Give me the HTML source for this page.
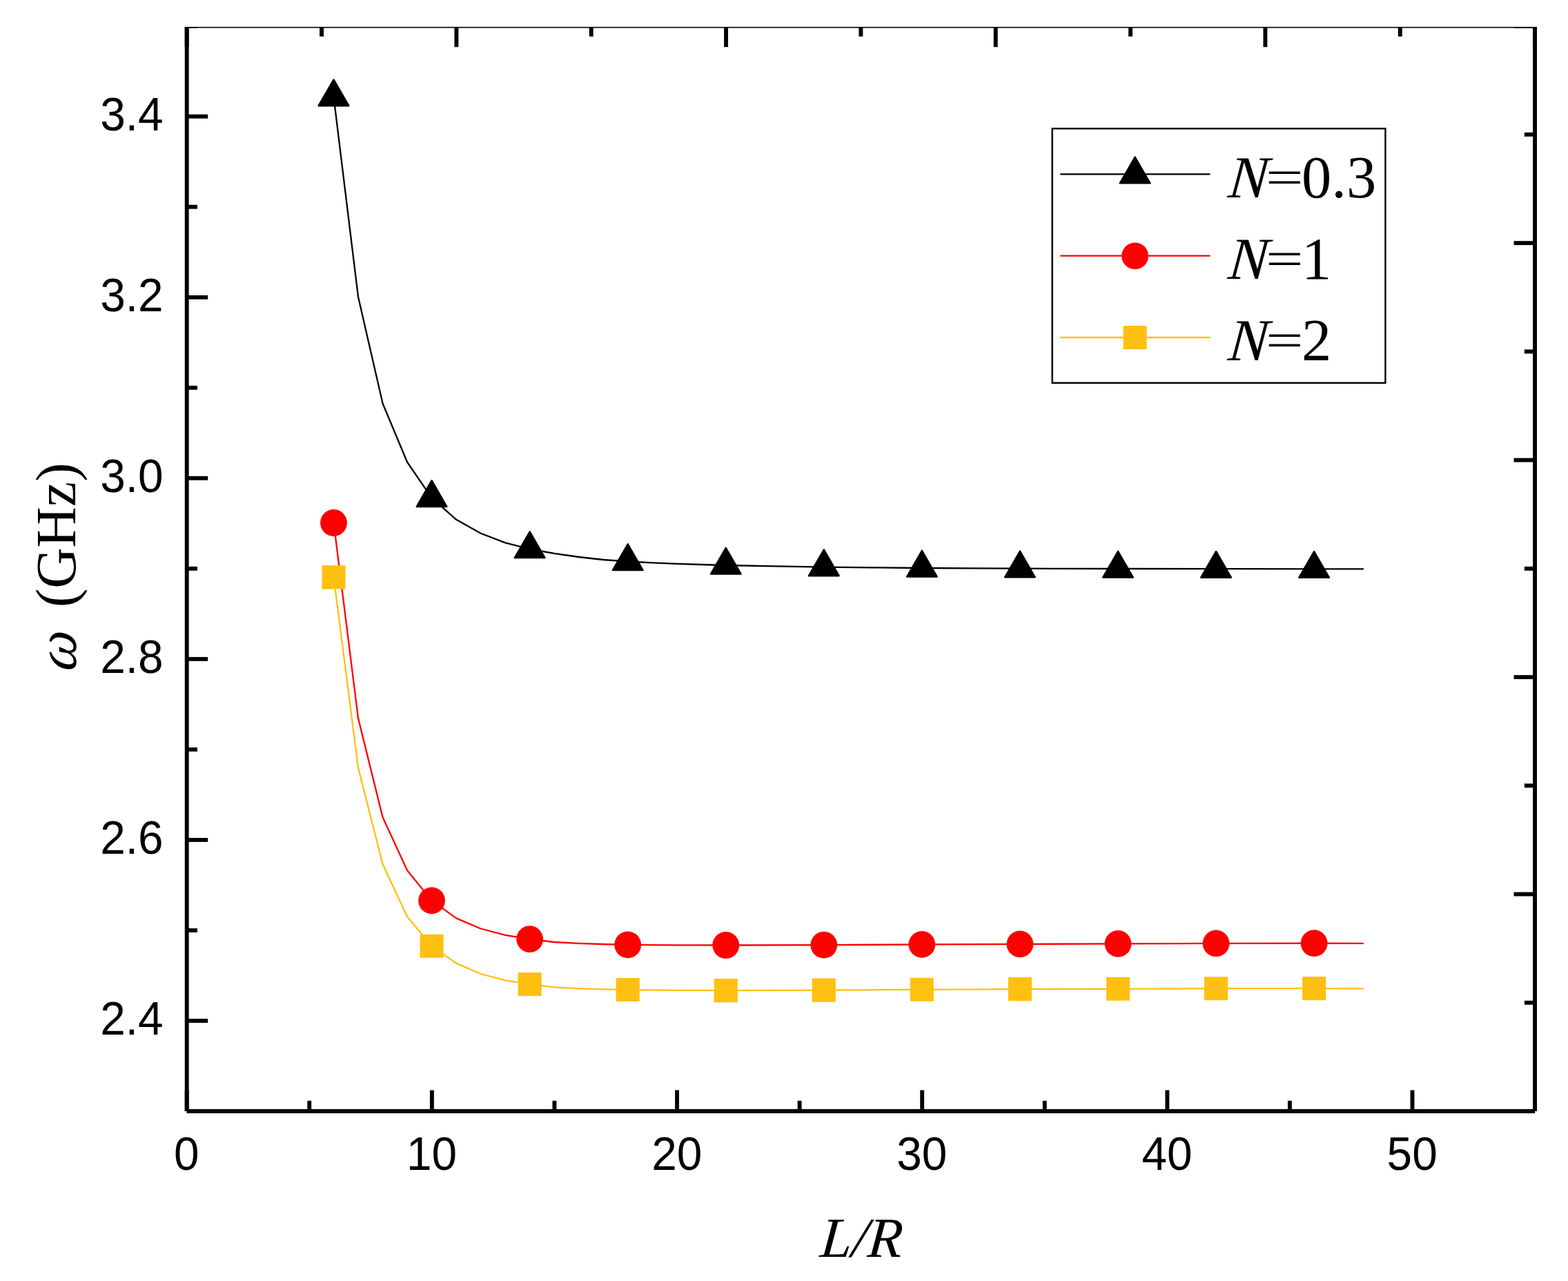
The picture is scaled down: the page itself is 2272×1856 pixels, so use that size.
<!DOCTYPE html>
<html lang="en"><head><meta charset="utf-8"><title>Frequency versus L/R</title>
<style>
html,body{margin:0;padding:0;background:#fff;}
body{width:2272px;height:1856px;overflow:hidden;}
svg{display:block;}
.tk{font-family:"Liberation Sans",Arial,Helvetica,sans-serif;font-size:69.2px;fill:#000;}
.lg{font-family:"Liberation Serif","Times New Roman",Times,serif;font-size:86.5px;fill:#000;}
.tt{font-family:"Liberation Serif","Times New Roman",Times,serif;font-size:82px;fill:#000;}
.it{font-style:italic;}
</style></head><body>
<svg width="2272" height="1856" viewBox="0 0 2272 1856">
<rect x="0" y="0" width="2272" height="1856" fill="#fff"/>
<polyline points="483.5,140.6 519.0,430.1 554.5,584.5 590.0,669.5 625.6,721.4 661.1,752.8 696.6,772.7 732.1,786.4 767.6,795.5 803.1,801.9 838.6,807.0 874.2,811.0 909.7,813.5 945.2,815.3 980.7,816.8 1016.2,818.0 1051.7,819.0 1122.8,820.4 1193.8,821.6 1264.8,822.4 1335.9,823.0 1406.9,823.4 1477.9,823.7 1620.0,824.0 1762.0,824.1 1904.1,824.3 1975.1,824.3" fill="none" stroke="#000" stroke-width="2.3" stroke-linejoin="round" stroke-linecap="round"/>
<polygon points="483.49,115.40 505.32,153.20 461.67,153.20" fill="#000" stroke="#000" stroke-width="2.4" stroke-linejoin="round"/>
<polygon points="625.55,696.20 647.38,734.00 603.73,734.00" fill="#000" stroke="#000" stroke-width="2.4" stroke-linejoin="round"/>
<polygon points="767.62,770.30 789.44,808.10 745.79,808.10" fill="#000" stroke="#000" stroke-width="2.4" stroke-linejoin="round"/>
<polygon points="909.68,788.30 931.50,826.10 887.85,826.10" fill="#000" stroke="#000" stroke-width="2.4" stroke-linejoin="round"/>
<polygon points="1051.74,793.80 1073.56,831.60 1029.92,831.60" fill="#000" stroke="#000" stroke-width="2.4" stroke-linejoin="round"/>
<polygon points="1193.80,796.40 1215.63,834.20 1171.98,834.20" fill="#000" stroke="#000" stroke-width="2.4" stroke-linejoin="round"/>
<polygon points="1335.86,797.80 1357.69,835.60 1314.04,835.60" fill="#000" stroke="#000" stroke-width="2.4" stroke-linejoin="round"/>
<polygon points="1477.93,798.50 1499.75,836.30 1456.10,836.30" fill="#000" stroke="#000" stroke-width="2.4" stroke-linejoin="round"/>
<polygon points="1619.99,798.80 1641.81,836.60 1598.16,836.60" fill="#000" stroke="#000" stroke-width="2.4" stroke-linejoin="round"/>
<polygon points="1762.05,798.90 1783.87,836.70 1740.23,836.70" fill="#000" stroke="#000" stroke-width="2.4" stroke-linejoin="round"/>
<polygon points="1904.11,799.10 1925.93,836.90 1882.29,836.90" fill="#000" stroke="#000" stroke-width="2.4" stroke-linejoin="round"/>
<polyline points="483.5,757.5 519.0,1040.6 554.5,1184.1 590.0,1261.1 625.6,1304.8 661.1,1330.4 696.6,1345.5 732.1,1354.9 767.6,1360.6 803.1,1365.0 838.6,1366.8 874.2,1368.0 909.7,1368.8 980.7,1369.4 1051.7,1369.5 1193.8,1369.2 1335.9,1368.4 1477.9,1367.9 1620.0,1367.4 1762.0,1366.9 1904.1,1366.7 1975.1,1366.8" fill="none" stroke="#FF0000" stroke-width="2.3" stroke-linejoin="round" stroke-linecap="round"/>
<circle cx="483.49" cy="757.50" r="19.4" fill="#FF0000"/>
<circle cx="625.55" cy="1304.80" r="19.4" fill="#FF0000"/>
<circle cx="767.62" cy="1360.60" r="19.4" fill="#FF0000"/>
<circle cx="909.68" cy="1368.80" r="19.4" fill="#FF0000"/>
<circle cx="1051.74" cy="1369.50" r="19.4" fill="#FF0000"/>
<circle cx="1193.80" cy="1369.20" r="19.4" fill="#FF0000"/>
<circle cx="1335.86" cy="1368.40" r="19.4" fill="#FF0000"/>
<circle cx="1477.93" cy="1367.90" r="19.4" fill="#FF0000"/>
<circle cx="1619.99" cy="1367.40" r="19.4" fill="#FF0000"/>
<circle cx="1762.05" cy="1366.90" r="19.4" fill="#FF0000"/>
<circle cx="1904.11" cy="1366.70" r="19.4" fill="#FF0000"/>
<polyline points="483.5,836.4 519.0,1112.1 554.5,1252.1 590.0,1328.1 625.6,1370.7 661.1,1395.6 696.6,1411.0 732.1,1420.3 767.6,1426.0 803.1,1430.4 838.6,1432.2 874.2,1433.3 909.7,1434.0 980.7,1434.8 1051.7,1435.1 1193.8,1434.6 1335.9,1433.8 1477.9,1433.1 1620.0,1432.8 1762.0,1432.2 1904.1,1432.1 1975.1,1432.3" fill="none" stroke="#FFC012" stroke-width="2.3" stroke-linejoin="round" stroke-linecap="round"/>
<rect x="466.44" y="819.35" width="34.1" height="34.1" rx="1" ry="1" fill="#FFC012"/>
<rect x="608.50" y="1353.65" width="34.1" height="34.1" rx="1" ry="1" fill="#FFC012"/>
<rect x="750.57" y="1408.95" width="34.1" height="34.1" rx="1" ry="1" fill="#FFC012"/>
<rect x="892.63" y="1416.95" width="34.1" height="34.1" rx="1" ry="1" fill="#FFC012"/>
<rect x="1034.69" y="1418.05" width="34.1" height="34.1" rx="1" ry="1" fill="#FFC012"/>
<rect x="1176.75" y="1417.55" width="34.1" height="34.1" rx="1" ry="1" fill="#FFC012"/>
<rect x="1318.81" y="1416.75" width="34.1" height="34.1" rx="1" ry="1" fill="#FFC012"/>
<rect x="1460.88" y="1416.05" width="34.1" height="34.1" rx="1" ry="1" fill="#FFC012"/>
<rect x="1602.94" y="1415.75" width="34.1" height="34.1" rx="1" ry="1" fill="#FFC012"/>
<rect x="1745.00" y="1415.15" width="34.1" height="34.1" rx="1" ry="1" fill="#FFC012"/>
<rect x="1887.06" y="1415.05" width="34.1" height="34.1" rx="1" ry="1" fill="#FFC012"/>
<line x1="270.70" y1="37.66" x2="270.70" y2="1610.00" stroke="#000" stroke-width="5.9"/>
<line x1="2224.05" y1="37.66" x2="2224.05" y2="1610.00" stroke="#000" stroke-width="5.9"/>
<line x1="270.70" y1="1610.00" x2="2224.05" y2="1610.00" stroke="#000" stroke-width="5.9"/>
<line x1="270.70" y1="37.66" x2="2224.05" y2="37.66" stroke="#000" stroke-width="5.9"/>
<line x1="270.70" y1="1610.00" x2="270.70" y2="1579.50" stroke="#000" stroke-width="5.9"/>
<line x1="448.28" y1="1610.00" x2="448.28" y2="1594.80" stroke="#000" stroke-width="5.9"/>
<line x1="625.85" y1="1610.00" x2="625.85" y2="1579.50" stroke="#000" stroke-width="5.9"/>
<line x1="803.43" y1="1610.00" x2="803.43" y2="1594.80" stroke="#000" stroke-width="5.9"/>
<line x1="981.01" y1="1610.00" x2="981.01" y2="1579.50" stroke="#000" stroke-width="5.9"/>
<line x1="1158.59" y1="1610.00" x2="1158.59" y2="1594.80" stroke="#000" stroke-width="5.9"/>
<line x1="1336.16" y1="1610.00" x2="1336.16" y2="1579.50" stroke="#000" stroke-width="5.9"/>
<line x1="1513.74" y1="1610.00" x2="1513.74" y2="1594.80" stroke="#000" stroke-width="5.9"/>
<line x1="1691.32" y1="1610.00" x2="1691.32" y2="1579.50" stroke="#000" stroke-width="5.9"/>
<line x1="1868.90" y1="1610.00" x2="1868.90" y2="1594.80" stroke="#000" stroke-width="5.9"/>
<line x1="2046.47" y1="1610.00" x2="2046.47" y2="1579.50" stroke="#000" stroke-width="5.9"/>
<line x1="2224.05" y1="1610.00" x2="2224.05" y2="1594.80" stroke="#000" stroke-width="5.9"/>
<line x1="270.70" y1="37.66" x2="270.70" y2="68.16" stroke="#000" stroke-width="5.9"/>
<line x1="466.03" y1="37.66" x2="466.03" y2="52.86" stroke="#000" stroke-width="5.9"/>
<line x1="661.37" y1="37.66" x2="661.37" y2="68.16" stroke="#000" stroke-width="5.9"/>
<line x1="856.70" y1="37.66" x2="856.70" y2="52.86" stroke="#000" stroke-width="5.9"/>
<line x1="1052.04" y1="37.66" x2="1052.04" y2="68.16" stroke="#000" stroke-width="5.9"/>
<line x1="1247.38" y1="37.66" x2="1247.38" y2="52.86" stroke="#000" stroke-width="5.9"/>
<line x1="1442.71" y1="37.66" x2="1442.71" y2="68.16" stroke="#000" stroke-width="5.9"/>
<line x1="1638.05" y1="37.66" x2="1638.05" y2="52.86" stroke="#000" stroke-width="5.9"/>
<line x1="1833.38" y1="37.66" x2="1833.38" y2="68.16" stroke="#000" stroke-width="5.9"/>
<line x1="2028.72" y1="37.66" x2="2028.72" y2="52.86" stroke="#000" stroke-width="5.9"/>
<line x1="2224.05" y1="37.66" x2="2224.05" y2="68.16" stroke="#000" stroke-width="5.9"/>
<line x1="270.70" y1="1610.00" x2="285.90" y2="1610.00" stroke="#000" stroke-width="5.9"/>
<line x1="270.70" y1="1478.97" x2="301.20" y2="1478.97" stroke="#000" stroke-width="5.9"/>
<line x1="270.70" y1="1347.94" x2="285.90" y2="1347.94" stroke="#000" stroke-width="5.9"/>
<line x1="270.70" y1="1216.92" x2="301.20" y2="1216.92" stroke="#000" stroke-width="5.9"/>
<line x1="270.70" y1="1085.89" x2="285.90" y2="1085.89" stroke="#000" stroke-width="5.9"/>
<line x1="270.70" y1="954.86" x2="301.20" y2="954.86" stroke="#000" stroke-width="5.9"/>
<line x1="270.70" y1="823.83" x2="285.90" y2="823.83" stroke="#000" stroke-width="5.9"/>
<line x1="270.70" y1="692.80" x2="301.20" y2="692.80" stroke="#000" stroke-width="5.9"/>
<line x1="270.70" y1="561.77" x2="285.90" y2="561.77" stroke="#000" stroke-width="5.9"/>
<line x1="270.70" y1="430.75" x2="301.20" y2="430.75" stroke="#000" stroke-width="5.9"/>
<line x1="270.70" y1="299.72" x2="285.90" y2="299.72" stroke="#000" stroke-width="5.9"/>
<line x1="270.70" y1="168.69" x2="301.20" y2="168.69" stroke="#000" stroke-width="5.9"/>
<line x1="270.70" y1="37.66" x2="285.90" y2="37.66" stroke="#000" stroke-width="5.9"/>
<line x1="2224.05" y1="37.66" x2="2193.55" y2="37.66" stroke="#000" stroke-width="5.9"/>
<line x1="2224.05" y1="194.89" x2="2208.85" y2="194.89" stroke="#000" stroke-width="5.9"/>
<line x1="2224.05" y1="352.13" x2="2193.55" y2="352.13" stroke="#000" stroke-width="5.9"/>
<line x1="2224.05" y1="509.36" x2="2208.85" y2="509.36" stroke="#000" stroke-width="5.9"/>
<line x1="2224.05" y1="666.60" x2="2193.55" y2="666.60" stroke="#000" stroke-width="5.9"/>
<line x1="2224.05" y1="823.83" x2="2208.85" y2="823.83" stroke="#000" stroke-width="5.9"/>
<line x1="2224.05" y1="981.06" x2="2193.55" y2="981.06" stroke="#000" stroke-width="5.9"/>
<line x1="2224.05" y1="1138.30" x2="2208.85" y2="1138.30" stroke="#000" stroke-width="5.9"/>
<line x1="2224.05" y1="1295.53" x2="2193.55" y2="1295.53" stroke="#000" stroke-width="5.9"/>
<line x1="2224.05" y1="1452.77" x2="2208.85" y2="1452.77" stroke="#000" stroke-width="5.9"/>
<line x1="2224.05" y1="1610.00" x2="2193.55" y2="1610.00" stroke="#000" stroke-width="5.9"/>
<rect x="0" y="0" width="2272" height="38.9" fill="#fff"/>
<text class="tk" transform="translate(270.40,1695.10) scale(0.95,1)" text-anchor="middle">0</text>
<text class="tk" transform="translate(625.55,1695.10) scale(0.95,1)" text-anchor="middle">10</text>
<text class="tk" transform="translate(980.71,1695.10) scale(0.95,1)" text-anchor="middle">20</text>
<text class="tk" transform="translate(1335.86,1695.10) scale(0.95,1)" text-anchor="middle">30</text>
<text class="tk" transform="translate(1691.02,1695.10) scale(0.95,1)" text-anchor="middle">40</text>
<text class="tk" transform="translate(2046.17,1695.10) scale(0.95,1)" text-anchor="middle">50</text>
<text class="tk" transform="translate(236.60,1499.07) scale(0.95,1)" text-anchor="end">2.4</text>
<text class="tk" transform="translate(236.60,1237.01) scale(0.95,1)" text-anchor="end">2.6</text>
<text class="tk" transform="translate(236.60,974.96) scale(0.95,1)" text-anchor="end">2.8</text>
<text class="tk" transform="translate(236.60,712.90) scale(0.95,1)" text-anchor="end">3.0</text>
<text class="tk" transform="translate(236.60,450.84) scale(0.95,1)" text-anchor="end">3.2</text>
<text class="tk" transform="translate(236.60,188.79) scale(0.95,1)" text-anchor="end">3.4</text>
<text class="tt it" transform="translate(1246.60,1820.60) skewX(-5)" text-anchor="middle">L/R</text>
<g transform="rotate(-90)"><text class="tt it" transform="translate(-973.90,109.70) skewX(-8)">ω</text><text class="tt" style="white-space:pre" transform="translate(-900.50,109.40)"> (GHz)</text></g>
<rect x="1524.7" y="186.3" width="482.7" height="368.5" fill="#fff" stroke="#000" stroke-width="2.4"/>
<line x1="1537.2" y1="252.45" x2="1752.6" y2="252.45" stroke="#000" stroke-width="2.3" stroke-linecap="round"/>
<polygon points="1644.60,227.60 1666.42,265.40 1622.78,265.40" fill="#000" stroke="#000" stroke-width="2.4" stroke-linejoin="round"/>
<g><text class="lg it" transform="translate(1778.20,285.90) skewX(-5)">N</text><text class="lg" transform="translate(1861.35,258.28) scale(1.12,0.8) translate(-24.43,28.72)">=</text><text class="lg" transform="translate(1886.00,285.90)">0.3</text></g>
<line x1="1537.2" y1="370.70" x2="1752.6" y2="370.70" stroke="#FF0000" stroke-width="2.3" stroke-linecap="round"/>
<circle cx="1644.60" cy="370.80" r="19.4" fill="#FF0000"/>
<g><text class="lg it" transform="translate(1778.20,403.90) skewX(-5)">N</text><text class="lg" transform="translate(1861.35,376.28) scale(1.12,0.8) translate(-24.43,28.72)">=</text><text class="lg" transform="translate(1886.00,403.90)">1</text></g>
<line x1="1537.2" y1="489.00" x2="1752.6" y2="489.00" stroke="#FFC012" stroke-width="2.3" stroke-linecap="round"/>
<rect x="1627.55" y="471.95" width="34.1" height="34.1" rx="1" ry="1" fill="#FFC012"/>
<g><text class="lg it" transform="translate(1778.20,522.10) skewX(-5)">N</text><text class="lg" transform="translate(1861.35,494.48) scale(1.12,0.8) translate(-24.43,28.72)">=</text><text class="lg" transform="translate(1886.00,522.10)">2</text></g>
</svg>
</body></html>
